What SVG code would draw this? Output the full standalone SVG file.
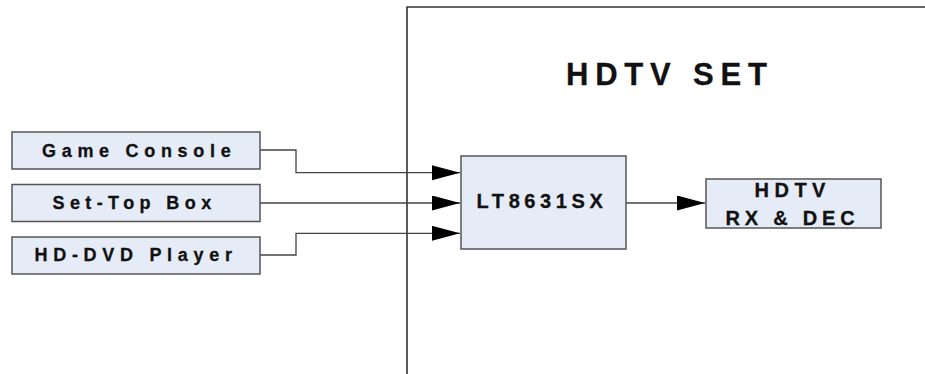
<svg xmlns="http://www.w3.org/2000/svg" width="925" height="374" viewBox="0 0 925 374">
<style>
.box{fill:#E6ECF7;stroke:#555;stroke-width:1.5}
.t{font-family:"Liberation Sans",Arial,sans-serif;font-weight:700;fill:#111;stroke:#111;stroke-width:0.3}
.c{fill:none;stroke:#444;stroke-width:1.3}
</style>
<defs>
<marker id="ah" markerUnits="userSpaceOnUse" markerWidth="29" markerHeight="16" refX="28" refY="7.5" orient="auto" viewBox="0 0 29 16">
<path d="M0,0 L28,7.5 L0,15 z" fill="#000"/>
</marker>
</defs>
<g id="frame">
<path d="M407,374 V7 H926" fill="none" stroke="#333" stroke-width="1.6"/>
<text class="t" x="566" y="84.5" font-size="31" letter-spacing="6.8">HDTV SET</text>
</g>
<g id="connectors">
<path class="c" d="M260,150 H296 V172.7 H460" marker-end="url(#ah)"/>
<path class="c" d="M260,203 H460" marker-end="url(#ah)"/>
<path class="c" d="M260,255 H296 V233.3 H460" marker-end="url(#ah)"/>
<path class="c" d="M626,203 H705" marker-end="url(#ah)"/>
</g>
<g id="game-console">
<rect class="box" x="12" y="132" width="248" height="37"/>
<text class="t" x="42" y="156.5" font-size="18" letter-spacing="5.7">Game Console</text>
</g>
<g id="set-top-box">
<rect class="box" x="12" y="184.5" width="248" height="37"/>
<text class="t" x="52.5" y="208.5" font-size="18" letter-spacing="5.4">Set-Top Box</text>
</g>
<g id="hd-dvd-player">
<rect class="box" x="12" y="237" width="248" height="37"/>
<text class="t" x="34.5" y="260.5" font-size="18" letter-spacing="5.7">HD-DVD Player</text>
</g>
<g id="lt8631sx">
<rect class="box" x="461" y="156" width="165" height="93"/>
<text class="t" x="476.5" y="208" font-size="20" letter-spacing="4.6">LT8631SX</text>
</g>
<g id="hdtv-rx-dec">
<rect class="box" x="706" y="179" width="175" height="49"/>
<text class="t" x="754.5" y="196.5" font-size="20" letter-spacing="5.5">HDTV</text>
<text class="t" x="725.5" y="224.5" font-size="20" letter-spacing="4.8">RX &amp; DEC</text>
</g>
</svg>
